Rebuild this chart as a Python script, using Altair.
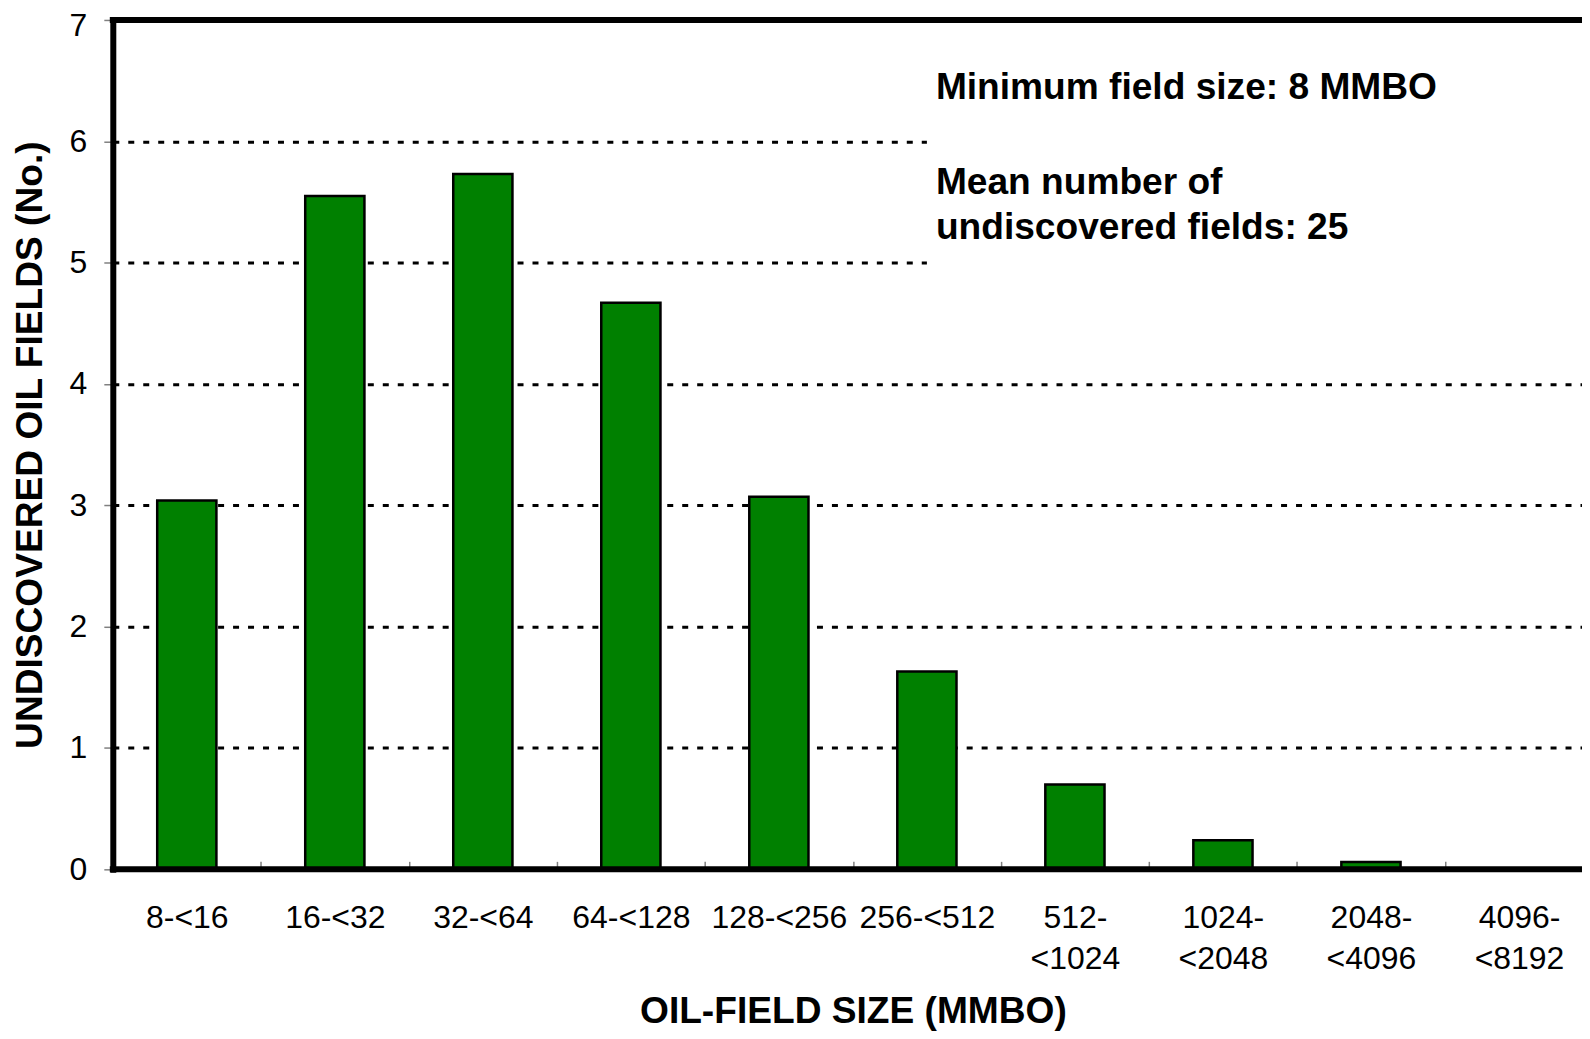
import altair as alt
import pandas as pd

# ---- data ----
categories = ["8-<16", "16-<32", "32-<64", "64-<128", "128-<256", "256-<512",
              "512-<1024", "1024-<2048", "2048-<4096", "4096-<8192"]
counts = [3.04, 5.55, 5.73, 4.67, 3.07, 1.63, 0.70, 0.24, 0.06, 0.0]
y_ticks = [0, 1, 2, 3, 4, 5, 6, 7]

note_lines = [["Minimum field size: 8 MMBO"], ["Mean number of", "undiscovered fields: 25"]]
note_y = [6.44, 5.66]
note_anchor = "256-<512"
note_box = [4.5, 6.85]
frame_y = [0, 7]

FONT = "Liberation Sans"

bars_df = pd.DataFrame({"size": categories, "value": counts})
notes_df = pd.DataFrame({"size": [note_anchor] * len(note_y), "value": note_y, "text": note_lines})
box_df = pd.DataFrame({"size": [note_anchor], "value": [note_box[1]], "value2": [note_box[0]]})
frame_df = pd.DataFrame({"value": frame_y})

x_scale = alt.Scale(domain=categories, range=[0, 1483], paddingInner=0, paddingOuter=0)
y_scale = alt.Scale(domain=[0, 7], nice=False, zero=True)

label_expr = ("length(datum.label) >= 9 ? "
              "[substring(datum.label, 0, indexof(datum.label, '-') + 1), "
              "substring(datum.label, indexof(datum.label, '-') + 1)] : datum.label")

x_axis = alt.Axis(
    title="OIL-FIELD SIZE (MMBO)", labelExpr=label_expr, labelAngle=0,
    labelFont=FONT, labelFontSize=32, labelColor="black", labelLineHeight=41,
    labelBaseline="alphabetic", labelPadding=58, labelOverlap=False,
    domain=False, ticks=True, tickBand="extent", tickSize=8,
    tickColor="#808080", tickWidth=1.5, offset=-8, grid=False,
    titleFont=FONT, titleFontSize=37.2, titleFontWeight="bold", titleColor="black",
    titleX=741.5, titleY=161, titleBaseline="alphabetic", titleAlign="center",
    zindex=0,
)

y_axis = alt.Axis(
    title="UNDISCOVERED OIL FIELDS (No.)", values=y_ticks, format="d",
    labelFont=FONT, labelFontSize=32, labelColor="black", labelPadding=17,
    labelOffset={"condition": {"test": "datum.value == 7", "value": 6}, "value": 0},
    tickSize=9, tickColor="#808080", tickWidth=1.5,
    domainColor="black", domainWidth=6, domainCap="square",
    grid=True, gridColor="black", gridDash=[6, 9], gridWidth=3,
    titleFont=FONT, titleFontSize=37.2, titleFontWeight="bold", titleColor="black",
    titleAngle=270, titleX=-82, titleY=425.5, titleAlign="center", titleBaseline="middle",
    zindex=0,
)

X = alt.X("size:N", scale=x_scale, sort=categories, axis=x_axis)
Y = alt.Y("value:Q", scale=y_scale, axis=y_axis)

box = alt.Chart(box_df).mark_rect(fill="white").encode(
    x=alt.X("size:N", scale=x_scale, sort=categories, axis=x_axis, bandPosition=0.5),
    x2=alt.value("width"),
    y=Y,
    y2="value2:Q",
)

bars = alt.Chart(bars_df).mark_bar(
    width=alt.RelativeBandSize(0.4), fill="#008000", stroke="black", strokeWidth=2.5
).encode(x=X, y=Y)

notes = alt.Chart(notes_df).mark_text(
    align="left", baseline="middle", dx=9, font=FONT, fontSize=37.2,
    fontWeight="bold", color="black", lineHeight=46,
).encode(x=X, y=Y, text="text")

frame = alt.Chart(frame_df).mark_rule(color="black", strokeWidth=6, strokeCap="square").encode(y=Y)

chart = alt.layer(box, bars, notes, frame).properties(
    width=1472, height=851,
    autosize=alt.AutoSizeParams(type="none"),
    padding={"left": 105, "top": 11, "right": 0, "bottom": 161},
    background="white",
).configure_view(stroke=None)

chart.save("out.html", embed_options={"renderer": "svg", "actions": False})
